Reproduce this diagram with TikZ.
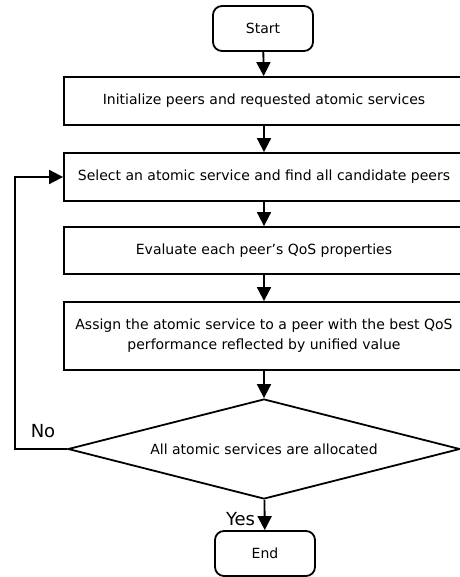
\documentclass[tikz,border=0pt]{standalone}
\usepackage{fontspec}
\setmainfont{DejaVu Sans}[Ligatures=ResetAll]
\usetikzlibrary{shapes.geometric,arrows.meta}
\begin{document}
\begin{tikzpicture}[x=1pt,y=-1pt,
  line width=1.8pt,
  every node/.style={font=\fontsize{14}{17}\selectfont, inner sep=0pt},
  terminal/.style={draw, rounded corners=9pt, minimum width=100pt, minimum height=45pt},
  procbox/.style={draw, minimum width=400pt, align=center},
  decision/.style={draw, diamond, aspect=3.92, minimum width=392pt, minimum height=100pt},
  flow/.style={-{Triangle[length=14pt,width=14pt]}},
  branch/.style={font=\fontsize{18}{20}\selectfont}
]
\useasboundingbox (0,0) rectangle (459,577);

\node[terminal] (start) at (263,28.5) {Start};
\node[procbox, minimum height=48pt] (init) at (264,101) {Initialize peers and requested atomic services};
\node[procbox, minimum height=48pt] (select) at (264,177) {Select an atomic service and find all candidate peers};
\node[procbox, minimum height=47pt] (eval) at (264,250.5) {Evaluate each peer's QoS properties};
\node[procbox, minimum height=68pt] (assign) at (264,336) {Assign the atomic service to a peer with the best QoS\\[3pt]performance reflected by unified value};
\node[decision] (check) at (264,449) {All atomic services are allocated};
\node[terminal] (end) at (265,553.5) {End};

\coordinate (back) at (15,449);

\draw[flow] (start) -- (init);
\draw[flow] (init) -- (select);
\draw[flow] (select) -- (eval);
\draw[flow] (eval) -- (assign);
\draw[flow] (assign) -- (check);
\draw[flow] (check) -- (end);
\draw[flow] (check.west) -- (back) |- (select.west);

\node[branch] (no) at (43,431) {No};
\node[branch, anchor=east] (yes) at (256,519) {Yes};
\end{tikzpicture}
\end{document}
